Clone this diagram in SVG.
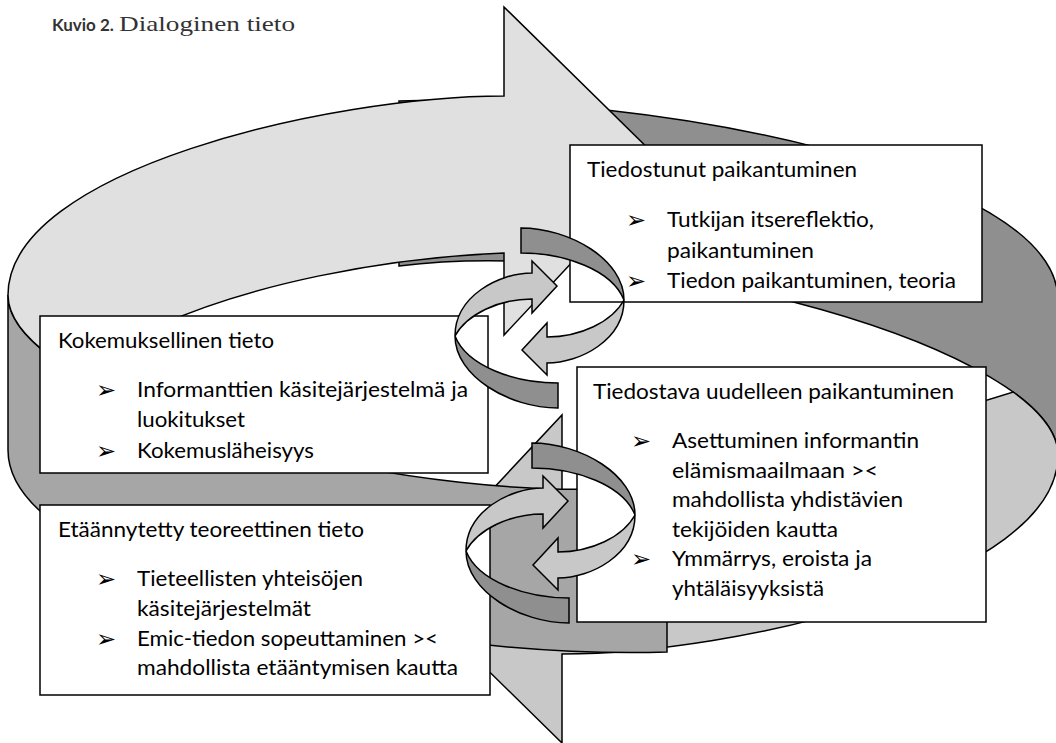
<svg xmlns="http://www.w3.org/2000/svg" xmlns:xlink="http://www.w3.org/1999/xlink" width="1056" height="743" viewBox="0 0 1056 743">
<style>
.sh{stroke:#000;stroke-width:1.5;stroke-linejoin:miter}
.atop{fill:#e0e0e0}.awall{fill:#a6a6a6}.btop{fill:#c8c8c8}.bwall{fill:#8f8f8f}
.dk{fill:#8f8f8f}.lt{fill:#c8c8c8}
.box{fill:#fff;stroke:#000;stroke-width:1.5}
.t{font-family:Lato,"Open Sans",sans-serif;font-size:22px;fill:#000}
.bl{font-family:"DejaVu Sans",sans-serif;font-size:24px;fill:#000}
</style>
<defs>
<g id="loop">
<path class="sh dk" d="M521,228 C570,228 624,260 624,300 C612,270 565,253 521,253 Z"/>
<path class="sh lt" d="M624,300 C624,340 580,363 547,363 L547,375 L522,350 L547,323 L547,337 C580,337 612,322 624,300 Z"/>
<path class="sh dk" d="M558,408 C509,408 455,376 455,336 C467,366 514,383 558,383 Z"/>
<path class="sh lt" d="M455,336 C455,296 499,273 532,273 L532,261 L557,286 L532,313 L532,299 C499,299 467,314 455,336 Z"/>
</g>
</defs>
<rect width="1056" height="743" fill="#fff"/>
<g id="title">
<text x="52" y="31" font-family="Lato, sans-serif" font-weight="bold" font-size="17" fill="#333">Kuvio 2.</text>
<text x="119" y="31" font-family="'Liberation Serif', serif" font-size="22" fill="#333" textLength="176" lengthAdjust="spacingAndGlyphs">Dialoginen tieto</text>
</g>
<g id="connectors">
<path class="sh bwall" d="M1058,455 C1058,350 646,235 399,266 L399,101 C646,92 1058,170 1058,300 Z"/>
<path class="sh btop" d="M562,654 L562,743 L402,586 L562,415 L562,497 C686,492 816,465 906,425 L1013.2,392 C1041.5,412.6 1058,434 1058,455 C1058,580 736,654 562,654 Z"/>
<path class="sh awall" d="M8,295 C8,400 420,515 667,484 L667,652 C420,660 8,580 8,450 Z"/>
<path class="sh atop" d="M504,96 L504,7 L664,164 L504,335 L504,253 C380,258 250,285 160,325 L52.8,358 C24.5,337.4 8,316 8,295 C8,170 330,96 504,96 Z"/>
</g>
<g id="box1">
<rect class="box" x="570" y="145" width="412" height="157"/>
<text class="t" x="587" y="177" textLength="270" lengthAdjust="spacingAndGlyphs">Tiedostunut paikantuminen</text>
<text class="bl" x="626" y="228">➢</text>
<text class="t" x="667" y="227" textLength="207" lengthAdjust="spacingAndGlyphs">Tutkijan itsereflektio,</text>
<text class="t" x="667" y="258" textLength="147" lengthAdjust="spacingAndGlyphs">paikantuminen</text>
<text class="bl" x="626" y="289">➢</text>
<text class="t" x="667" y="288" textLength="289" lengthAdjust="spacingAndGlyphs">Tiedon paikantuminen, teoria</text>
</g>
<g id="box2">
<rect class="box" x="40" y="316" width="448" height="157"/>
<text class="t" x="58" y="348" textLength="216" lengthAdjust="spacingAndGlyphs">Kokemuksellinen tieto</text>
<text class="bl" x="96" y="398">➢</text>
<text class="t" x="137" y="397" textLength="331" lengthAdjust="spacingAndGlyphs">Informanttien käsitejärjestelmä ja</text>
<text class="t" x="137" y="427" textLength="108" lengthAdjust="spacingAndGlyphs">luokitukset</text>
<text class="bl" x="96" y="459">➢</text>
<text class="t" x="137" y="458" textLength="177" lengthAdjust="spacingAndGlyphs">Kokemusläheisyys</text>
</g>
<g id="box3">
<rect class="box" x="40" y="505" width="450" height="190"/>
<text class="t" x="58" y="537" textLength="306" lengthAdjust="spacingAndGlyphs">Etäännytetty teoreettinen tieto</text>
<text class="bl" x="96" y="587">➢</text>
<text class="t" x="137" y="586" textLength="226" lengthAdjust="spacingAndGlyphs">Tieteellisten yhteisöjen</text>
<text class="t" x="137" y="616" textLength="174" lengthAdjust="spacingAndGlyphs">käsitejärjestelmät</text>
<text class="bl" x="96" y="647">➢</text>
<text class="t" x="137" y="646" textLength="301" lengthAdjust="spacingAndGlyphs">Emic-tiedon sopeuttaminen &gt;&lt;</text>
<text class="t" x="137" y="675" textLength="321" lengthAdjust="spacingAndGlyphs">mahdollista etääntymisen kautta</text>
</g>
<g id="box4">
<rect class="box" x="577" y="367" width="409" height="255"/>
<text class="t" x="593" y="399" textLength="361" lengthAdjust="spacingAndGlyphs">Tiedostava uudelleen paikantuminen</text>
<text class="bl" x="631" y="449">➢</text>
<text class="t" x="672" y="448" textLength="247" lengthAdjust="spacingAndGlyphs">Asettuminen informantin</text>
<text class="t" x="672" y="478" textLength="206" lengthAdjust="spacingAndGlyphs">elämismaailmaan &gt;&lt;</text>
<text class="t" x="672" y="507" textLength="231" lengthAdjust="spacingAndGlyphs">mahdollista yhdistävien</text>
<text class="t" x="672" y="537" textLength="166" lengthAdjust="spacingAndGlyphs">tekijöiden kautta</text>
<text class="bl" x="631" y="567">➢</text>
<text class="t" x="672" y="566" textLength="200" lengthAdjust="spacingAndGlyphs">Ymmärrys, eroista ja</text>
<text class="t" x="672" y="596" textLength="152" lengthAdjust="spacingAndGlyphs">yhtäläisyyksistä</text>
</g>
<g id="connectors-loops">
<use href="#loop" xlink:href="#loop"/>
<use href="#loop" xlink:href="#loop" transform="translate(11,215)"/>
</g>
</svg>
